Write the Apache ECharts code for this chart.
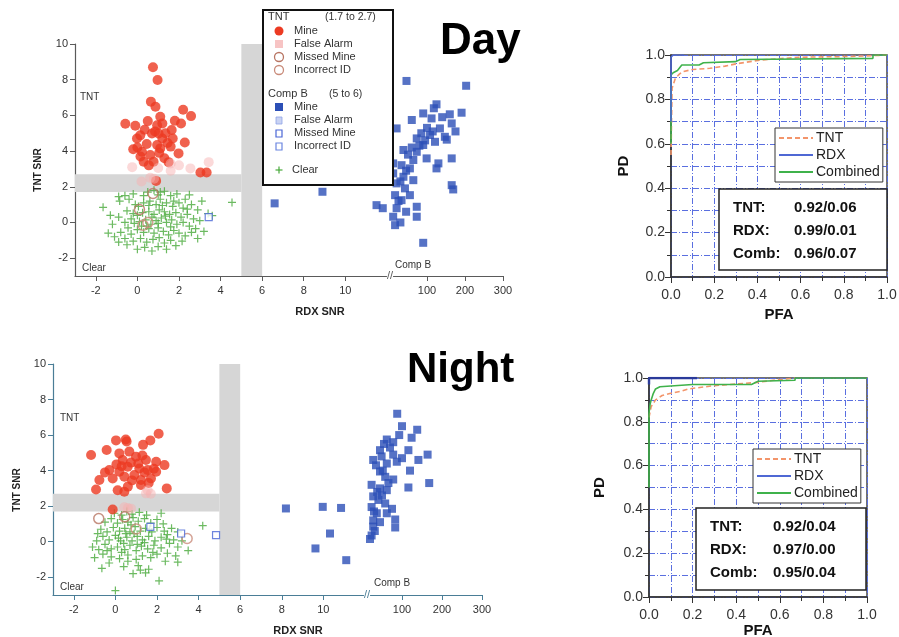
<!DOCTYPE html>
<html><head><meta charset="utf-8">
<script src="https://cdn.jsdelivr.net/npm/echarts@6/dist/echarts.min.js"></script>
<style>html,body{margin:0;padding:0;background:#fff}#c{width:899px;height:637px}</style>
</head><body><div id="c"></div>
<script>
const FONT = '"Liberation Sans", Arial, Helvetica, sans-serif';

// ---------- tick labels ----------
const xTicksLeft = [-2, 0, 2, 4, 6, 8, 10];
const xTicksRight = [100, 200, 300];
const yTicksSNR = [-2, 0, 2, 4, 6, 8, 10];

// ---------- threshold bands ----------
const tntBand = [1.7, 2.7];
const compBBand = [5, 6];

// ---------- DAY scatter ----------
const dayTntMine = [[0.75,8.7],[0.97,7.98],[0.65,6.77],[0.87,6.48],[2.2,6.32],[2.58,5.96],[-0.58,5.53],[-0.1,5.42],[0.5,5.68],[1.1,5.92],[1.2,5.55],[1.65,5.18],[2.1,5.55],[0.95,5.45],[2.28,4.48],[0.14,4.88],[-0.02,4.7],[0.7,4.98],[1.2,4.7],[1.45,4.45],[0.95,4.34],[1.6,4.25],[1.1,4.15],[0.22,3.96],[0.62,3.78],[0.3,3.4],[1.5,3.38],[1.98,3.87],[1.02,4.98],[0.78,3.4],[3.03,2.8],[3.33,2.8],[0.9,2.33],[0.0,4.2],[0.45,4.4],[1.3,3.6],[1.7,4.7],[0.35,5.2],[0.15,3.7],[1.35,5.0],[0.55,3.2],[1.8,5.7],[0.85,5.1],[-0.2,4.1],[1.05,3.9]];
const dayTntFalse = [[-0.25,3.1],[0.2,2.3],[0.62,2.5],[1.6,2.9],[2.55,3.03],[3.43,3.38],[2.0,3.2],[1.0,3.05],[0.8,2.45],[1.6,3.3]];
const dayTntMissed = [[0.75,1.62],[0.1,0.72]];
const dayTntWrongId = [[0.27,-0.15],[0.5,0.0]];
const dayCompBMissed = [[3.43,0.3]];
const dayCompBMineLow = [[6.6,1.07],[8.9,1.72],[11.5,0.97],[11.8,0.8]];
const dayCompBMineHigh = [[46,7.93],[203,7.66],[125,6.62],[90,6.11],[112,5.83],[60,5.74],[160,6.06],[191,6.15],[165,5.55],[134,5.27],[20,5.27],[73,4.71],[108,4.9],[147,4.8],[90,4.34],[121,4.52],[152,4.64],[38,4.06],[73,3.96],[99,3.59],[64,3.5],[165,3.59],[130,3.31],[11,3.31],[33,3.21],[55,3.03],[125,3.03],[11,2.75],[38,2.56],[64,2.37],[20,2.19],[165,2.09],[42,1.91],[169,1.85],[16,1.53],[55,1.53],[33,1.25],[73,0.88],[20,0.8],[73,0.32],[11,0.32],[16,-0.15],[90,-1.14],[85,5.0],[100,5.3],[115,5.1],[80,4.3],[60,4.2],[50,3.8],[45,2.9],[30,2.3],[25,1.2],[45,0.6],[30,0.0],[140,5.9],[175,5.1],[95,4.6],[118,6.4]];
const dayClear = [[-1.65,0.85],[4.55,1.12],[3.6,0.38],[-0.9,1.45],[-0.85,1.2],[-0.6,1.5],[-0.4,1.3],[-0.2,1.6],[0.3,1.5],[0.5,1.7],[0.8,1.8],[1.0,1.55],[1.3,1.75],[1.6,1.5],[1.9,1.6],[2.5,1.55],[2.3,1.3],[-0.5,0.65],[-0.2,0.5],[0.05,0.9],[0.3,1.1],[0.6,1.2],[0.9,1.0],[1.1,1.3],[1.4,1.1],[1.7,0.9],[2.0,1.1],[2.2,0.8],[2.6,1.0],[2.9,0.7],[3.1,1.2],[-0.9,0.3],[-0.6,0.0],[-0.3,0.2],[0.0,0.4],[0.25,0.55],[0.55,0.6],[0.8,0.45],[1.05,0.7],[1.3,0.6],[1.55,0.45],[1.85,0.55],[2.1,0.3],[2.4,0.45],[2.7,0.2],[3.0,0.1],[-1.2,-0.1],[-0.8,-0.55],[-0.45,-0.3],[-0.15,-0.05],[0.1,0.05],[0.4,0.15],[0.65,-0.1],[0.9,0.1],[1.15,0.25],[1.4,0.0],[1.65,0.15],[1.9,-0.1],[2.2,0.0],[2.5,-0.2],[2.8,-0.35],[3.2,-0.5],[-1.4,-0.6],[-1.1,-0.8],[-0.6,-0.9],[-0.3,-0.65],[0.0,-0.4],[0.3,-0.55],[0.55,-0.35],[0.8,-0.6],[1.0,-0.3],[1.25,-0.5],[1.5,-0.7],[1.75,-0.45],[2.0,-0.6],[2.3,-0.75],[2.6,-0.55],[-0.9,-1.1],[-0.5,-1.25],[-0.2,-1.05],[0.15,-0.9],[0.45,-1.1],[0.75,-0.95],[1.05,-0.85],[1.3,-1.15],[1.6,-1.0],[1.85,-1.3],[2.15,-1.05],[0.0,-1.5],[0.35,-1.4],[0.7,-1.6],[1.0,-1.35],[1.4,-1.5],[0.55,0.95],[1.2,0.95],[0.7,0.3],[1.0,-0.05],[1.35,0.35],[0.45,-0.2],[1.75,1.2],[-0.1,1.0],[0.2,-0.2],[1.6,-0.25],[2.4,0.75],[-1.3,0.4],[3.4,0.5],[2.9,-0.9],[1.1,1.7]];

// ---------- NIGHT scatter ----------
const nightTntMine = [[2.08,6.07],[1.68,5.7],[1.33,5.45],[0.03,5.7],[0.54,5.64],[-1.17,4.88],[-0.42,5.16],[0.19,4.97],[0.67,5.07],[0.35,4.6],[0.99,4.78],[1.47,4.6],[1.96,4.5],[2.36,4.31],[-0.29,4.03],[0.19,3.94],[0.59,4.22],[1.15,4.12],[1.55,4.03],[1.96,3.94],[-0.13,3.56],[0.43,3.66],[0.91,3.75],[1.23,3.47],[1.71,3.56],[-0.77,3.47],[-0.93,2.94],[0.11,2.9],[0.43,2.81],[2.47,3.0],[1.23,3.19],[-0.13,1.81],[0.5,5.75],[0.75,4.45],[1.4,3.9],[0.3,4.25],[1.85,4.1],[1.1,4.4],[0.8,3.45],[1.6,3.3],[-0.5,3.9],[1.3,4.85],[0.05,4.35],[0.6,3.1]];
const nightTntFalse = [[0.43,1.94],[0.6,1.9],[0.75,1.86],[1.47,2.72],[1.7,2.7],[1.55,2.9]];
const nightTntMissed = [[-0.8,1.3],[0.45,1.4]];
const nightTntWrongId = [[1.0,0.72],[3.45,0.18]];
const nightCompBMissed = [[1.68,0.83],[3.16,0.46],[4.84,0.37]];
const nightCompBMineLow = [[8.2,1.87],[9.97,1.96],[10.85,1.9],[10.32,0.46],[9.62,-0.38],[11.1,-1.04]];
const nightCompBMineHigh = [[88,7.2],[100,6.5],[138,6.3],[93,6.0],[124,5.85],[62,5.75],[78,5.6],[45,5.15],[116,5.15],[78,4.9],[28,4.6],[49,4.8],[87,4.5],[141,4.6],[164,4.9],[62,4.4],[120,4.0],[45,3.95],[58,3.65],[78,3.5],[24,3.2],[116,3.05],[168,3.3],[45,3.0],[62,2.9],[28,2.55],[41,2.35],[58,2.15],[24,1.95],[75,1.85],[37,1.6],[62,1.6],[28,1.2],[83,1.25],[45,1.1],[83,0.8],[28,0.85],[24,0.35],[20,0.15],[35,4.3],[52,4.0],[70,5.3],[38,2.8],[30,1.7],[50,2.6],[66,3.3],[32,0.6],[100,4.7],[55,5.5]];
const nightClear = [[0.0,-2.75],[2.1,-2.2],[0.85,-1.8],[-0.65,-1.5],[1.45,-1.75],[3.0,-1.15],[1.6,-1.55],[0.4,-1.4],[1.1,-1.35],[-0.3,-1.2],[2.4,-1.1],[-1.0,-0.9],[-0.6,-0.7],[-0.2,-0.85],[0.2,-0.95],[0.6,-0.75],[1.0,-1.0],[1.3,-0.8],[1.7,-0.9],[2.0,-0.7],[2.5,-0.65],[-1.1,-0.3],[-0.8,-0.45],[-0.5,-0.15],[-0.2,-0.4],[0.1,-0.3],[0.45,-0.45],[0.7,-0.2],[1.0,-0.5],[1.25,-0.25],[1.55,-0.4],[1.85,-0.2],[2.2,-0.35],[2.6,-0.1],[3.0,-0.3],[3.5,-0.5],[-0.9,0.05],[-0.6,0.3],[-0.3,0.1],[0.0,0.35],[0.25,0.05],[0.55,0.25],[0.8,0.05],[1.05,0.3],[1.3,0.1],[1.6,0.3],[1.9,0.05],[2.2,0.25],[2.5,0.4],[2.8,0.1],[3.2,0.05],[-0.7,0.7],[-0.4,0.55],[-0.1,0.8],[0.2,0.6],[0.45,0.75],[0.7,0.55],[0.95,0.85],[1.2,0.6],[1.45,0.75],[1.75,0.55],[2.0,0.8],[2.35,0.6],[2.7,0.75],[3.0,0.55],[4.2,0.9],[-0.5,1.1],[-0.2,1.3],[0.1,1.05],[0.35,1.25],[0.6,1.1],[0.85,1.35],[1.1,1.15],[1.4,1.3],[1.7,1.05],[2.0,1.25],[2.3,1.0],[-0.05,1.6],[0.3,1.5],[0.55,1.7],[0.8,1.55],[1.15,1.65],[1.5,1.5],[2.2,1.6],[0.4,-0.1],[0.9,0.45],[1.4,-0.05],[0.15,0.2],[1.8,-0.6],[0.6,-1.1],[-0.4,-0.5],[2.9,-0.8],[1.2,-1.6],[0.75,0.95],[1.65,0.7],[-0.85,0.45],[2.45,0.15],[0.3,-0.6],[1.05,-0.15],[0.5,0.45]];

// ---------- ROC curves [PFA, PD] ----------
const dayRocTnt = [[0,0.55],[0.005,0.85],[0.02,0.895],[0.04,0.915],[0.055,0.925],[0.1,0.935],[0.18,0.94],[0.25,0.95],[0.3,0.96],[0.41,0.977],[0.6,0.99],[0.8,0.993],[0.93,0.997],[1,1]];
const dayRocRdx = [[0,0.7],[0,0.99],[0.01,1],[0.06,1]];
const dayRocComb = [[0,0.6],[0,0.91],[0.01,0.92],[0.03,0.93],[0.05,0.955],[0.13,0.955],[0.15,0.965],[0.3,0.97],[0.32,0.98],[0.935,0.985],[0.935,1],[1,1]];
const nightRocTnt = [[0,0.82],[0.01,0.87],[0.03,0.9],[0.06,0.92],[0.1,0.93],[0.15,0.94],[0.18,0.95],[0.3,0.965],[0.5,0.98],[0.57,0.99],[0.67,1]];
const nightRocRdx = [[0,0.97],[0,1],[0.22,1]];
const nightRocComb = [[0,0.5],[0,0.84],[0.005,0.88],[0.01,0.9],[0.02,0.93],[0.03,0.95],[0.05,0.96],[0.2,0.97],[0.47,0.97],[0.5,0.985],[0.67,0.99],[0.67,1],[1,1]];

// ---------- summary text ----------
const dayStats = [['TNT:', '0.92/0.06'], ['RDX:', '0.99/0.01'], ['Comb:', '0.96/0.07']];
const nightStats = [['TNT:', '0.92/0.04'], ['RDX:', '0.97/0.00'], ['Comb:', '0.95/0.04']];

const C = {
  red: '#ec3a22', pink: 'rgba(246,175,175,0.6)', brown: '#b87563',
  blue: '#2c4fb6', blueHollow: '#4a66d6', green: '#47a93a',
  roTnt: '#f3956b', roRdx: '#4f68d4', roComb: '#3fb24b', grid: '#5a6fe0'
};
const PLUS = 'path://M3.4,0H4.6V8H3.4Z M0,3.4H8V4.6H0Z';

function snrX(gi, min, max, ticks, color) {
  return {
    type: 'value', gridIndex: gi, min: min, max: max,
    axisLine: { show: true, onZero: false, lineStyle: { color: color, width: 1.2 } },
    axisTick: { show: true, length: 5, customValues: ticks, lineStyle: { color: color } },
    axisLabel: { customValues: ticks, color: '#333', fontSize: 11, fontFamily: FONT, margin: 9 },
    splitLine: { show: false }
  };
}
function snrY(gi, color, show) {
  return {
    type: 'value', gridIndex: gi, min: -3, max: 10, show: show,
    axisLine: { show: true, onZero: false, lineStyle: { color: color, width: 1.2 } },
    axisTick: { show: true, length: 5, customValues: yTicksSNR, lineStyle: { color: color } },
    axisLabel: { customValues: yTicksSNR, color: '#333', fontSize: 11, fontFamily: FONT, margin: 7 },
    splitLine: { show: false }
  };
}
function rocAxis(gi, name, gap, isY) {
  return {
    type: 'value', gridIndex: gi, min: 0, max: 1, interval: 0.2,
    name: name, nameLocation: 'middle', nameGap: gap, nameRotate: isY ? 90 : 0,
    nameTextStyle: { fontWeight: 'bold', fontSize: 15, color: '#111', fontFamily: FONT },
    axisLine: { show: true, lineStyle: { color: '#333', width: 1.5 } },
    axisTick: { show: true, length: 6, lineStyle: { color: '#333' } },
    minorTick: { show: true, splitNumber: 2, length: 4, lineStyle: { color: '#333' } },
    axisLabel: { color: '#333', fontSize: 14, fontFamily: FONT, margin: isY ? 6 : 11, formatter: v => v.toFixed(1) },
    splitLine: { show: true, lineStyle: { color: C.grid, width: 1, type: [6, 2, 1, 2] } },
    minorSplitLine: { show: true, lineStyle: { color: C.grid, width: 1, type: [6, 2, 1, 2] } }
  };
}
function sc(name, data, xi, yi, symbol, size, itemStyle, z) {
  return { type: 'scatter', name: name, data: data, xAxisIndex: xi, yAxisIndex: yi,
    symbol: symbol, symbolSize: size, itemStyle: itemStyle, z: z || 3, silent: true };
}
function bands(xi, yi) {
  return { type: 'scatter', name: 'bands' + xi, data: [], xAxisIndex: xi, yAxisIndex: yi, silent: true,
    markArea: { silent: true, itemStyle: { color: '#d6d6d6' }, z: 1,
      data: [
        [{ coord: [-3, tntBand[0]] }, { coord: [compBBand[0], tntBand[1]] }],
        [{ coord: [compBBand[0], -3] }, { coord: [compBBand[1], 10] }]
      ] } };
}
function roc(name, data, xi, color, dashed, w) {
  return { type: 'line', name: name, data: data, xAxisIndex: xi, yAxisIndex: xi, symbol: 'none',
    lineStyle: { color: color, width: w || 1.6, type: dashed ? [5, 3] : 'solid' }, itemStyle: { color: color },
    z: 4, silent: true };
}
function panelSeries(prefix, xiL, xiR, d) {
  return [
    bands(xiL, xiL),
    sc(prefix + 'Clear', d.clear, xiL, xiL, PLUS, 8, { color: C.green }, 3),
    sc(prefix + 'TNT Mine', d.tntMine, xiL, xiL, 'circle', 10, { color: C.red }, 4),
    sc(prefix + 'TNT False Alarm', d.tntFalse, xiL, xiL, 'circle', 10, { color: C.pink }, 4),
    sc(prefix + 'TNT Missed', d.tntMissed, xiL, xiL, 'circle', 10, { color: 'rgba(255,255,255,0)', borderColor: C.brown, borderWidth: 1.5 }, 5),
    sc(prefix + 'TNT Wrong', d.tntWrong, xiL, xiL, 'circle', 10, { color: 'rgba(255,255,255,0)', borderColor: '#c98b7a', borderWidth: 1.5 }, 5),
    sc(prefix + 'CompB Missed', d.cbMissed, xiL, xiL, 'rect', 7, { color: '#fff', borderColor: C.blueHollow, borderWidth: 1.2 }, 5),
    sc(prefix + 'CompB Mine L', d.cbLow, xiL, xiL, 'rect', 8, { color: C.blue }, 4),
    sc(prefix + 'CompB Mine R', d.cbHigh, xiR, xiR, 'rect', 8, { color: C.blue }, 4)
  ];
}

function statsBox(x, y, w, h, rows, lx, vx, ys) {
  const ch = [{ type: 'rect', z: 100, shape: { x: x, y: y, width: w, height: h }, style: { fill: '#fff', stroke: '#222', lineWidth: 1.5 } }];
  rows.forEach((r, i) => {
    ch.push({ type: 'text', z: 101, x: lx, y: ys[i], style: { text: r[0], font: 'bold 15px ' + FONT, fill: '#111', textVerticalAlign: 'middle' } });
    ch.push({ type: 'text', z: 101, x: vx, y: ys[i], style: { text: r[1], font: 'bold 15px ' + FONT, fill: '#111', textVerticalAlign: 'middle' } });
  });
  return ch;
}

function txt(x, y, s, font, extra, z) {
  return { type: 'text', x: x, y: y, z: z || 50, style: Object.assign({ text: s, font: font, fill: '#222', textVerticalAlign: 'middle' }, extra || {}) };
}

// legend for day scatter
function scatterLegend() {
  const L = 263, T = 10, f = '11px ' + FONT, Z = 70;
  const ch = [{ type: 'rect', z: 60, shape: { x: L, y: T, width: 130, height: 175 }, style: { fill: '#fff', stroke: '#111', lineWidth: 2 } }];
  ch.push(txt(268, 17, 'TNT', f, { fill: '#333' }, Z));
  ch.push(txt(325, 17, '(1.7 to 2.7)', '10.5px ' + FONT, { fill: '#333' }, Z));
  const sx = 279, tx = 294;
  ch.push({ type: 'circle', z: Z, shape: { cx: sx, cy: 31, r: 4.5 }, style: { fill: C.red } });
  ch.push({ type: 'rect', z: Z, shape: { x: sx - 4, y: 40, width: 8, height: 8 }, style: { fill: '#f7c4c4' } });
  ch.push({ type: 'circle', z: Z, shape: { cx: sx, cy: 57, r: 4.5 }, style: { fill: 'none', stroke: C.brown, lineWidth: 1.3 } });
  ch.push({ type: 'circle', z: Z, shape: { cx: sx, cy: 70, r: 4.5 }, style: { fill: 'none', stroke: '#c98b7a', lineWidth: 1.3 } });
  ['Mine', 'False Alarm', 'Missed Mine', 'Incorrect ID'].forEach((s, i) => ch.push(txt(tx, 31 + i * 13, s, f, { fill: '#333' }, Z)));
  ch.push(txt(268, 94, 'Comp B', f, { fill: '#333' }, Z));
  ch.push(txt(329, 94, '(5 to 6)', '10.5px ' + FONT, { fill: '#333' }, Z));
  ch.push({ type: 'rect', z: Z, shape: { x: sx - 4, y: 103, width: 8, height: 8 }, style: { fill: C.blue } });
  ch.push({ type: 'rect', z: Z, shape: { x: sx - 3, y: 117, width: 6, height: 7 }, style: { fill: '#c9d3f3', stroke: '#8fa3e6', lineWidth: 0.8 } });
  ch.push({ type: 'rect', z: Z, shape: { x: sx - 3, y: 130, width: 6, height: 7 }, style: { fill: '#fff', stroke: C.blueHollow, lineWidth: 1.2 } });
  ch.push({ type: 'rect', z: Z, shape: { x: sx - 3, y: 143, width: 6, height: 7 }, style: { fill: '#fff', stroke: '#6b85e0', lineWidth: 1.2 } });
  ['Mine', 'False Alarm', 'Missed Mine', 'Incorrect ID'].forEach((s, i) => ch.push(txt(tx, 107 + i * 13, s, f, { fill: '#333' }, Z)));
  ch.push({ type: 'rect', z: Z, shape: { x: sx - 3.5, y: 169.4, width: 7, height: 1.2 }, style: { fill: C.green } });
  ch.push({ type: 'rect', z: Z, shape: { x: sx - 0.6, y: 166.5, width: 1.2, height: 7 }, style: { fill: C.green } });
  ch.push(txt(292, 170, 'Clear', f, { fill: '#333' }, Z));
  return ch;
}

const dayC = '#5a5a5a', nightC = '#4a7d96';

function rocLegend(left, top) {
  return { data: ['TNT', 'RDX', 'Combined'], orient: 'vertical', left: left, top: top, itemWidth: 34, itemHeight: 10, itemGap: 3,
    padding: [3, 3, 3, 3], borderColor: '#333', borderWidth: 1, backgroundColor: '#fff', z: 90,
    itemStyle: { opacity: 0 },
    textStyle: { fontSize: 14, color: '#222', fontFamily: FONT, padding: [0, 0, 0, -2] }, selectedMode: false };
}

function g(left, top, width, height, framed) {
  const o = { left: left, top: top, width: width, height: height, outerBoundsMode: 'none', containLabel: false };
  if (framed) Object.assign(o, { show: true, borderColor: '#444', borderWidth: 1.5, backgroundColor: 'transparent' });
  return o;
}

const option = {
  backgroundColor: '#fff',
  animation: false,
  textStyle: { fontFamily: FONT },
  grid: [
    g(75, 44, 314, 232),
    g(389, 44, 114, 232),
    g(671, 55, 216, 222, true),
    g(53, 364, 313, 231),
    g(366, 364, 116, 231),
    g(649, 378, 218, 219, true)
  ],
  xAxis: [
    snrX(0, -3, 12.1, xTicksLeft, dayC),
    snrX(1, 0, 300, xTicksRight, dayC),
    rocAxis(2, 'PFA', 30, false),
    snrX(3, -3, 12.05, xTicksLeft, nightC),
    snrX(4, 10, 300, xTicksRight, nightC),
    rocAxis(5, 'PFA', 24, false)
  ],
  yAxis: [
    snrY(0, dayC, true),
    snrY(1, dayC, false),
    rocAxis(2, 'PD', 40, true),
    snrY(3, nightC, true),
    snrY(4, nightC, false),
    rocAxis(5, 'PD', 42, true)
  ],
  legend: [rocLegend(775, 128), rocLegend(753, 449)],
  series: [].concat(
    panelSeries('D ', 0, 1, { clear: dayClear, tntMine: dayTntMine, tntFalse: dayTntFalse, tntMissed: dayTntMissed, tntWrong: dayTntWrongId, cbMissed: dayCompBMissed, cbLow: dayCompBMineLow, cbHigh: dayCompBMineHigh }),
    panelSeries('N ', 3, 4, { clear: nightClear, tntMine: nightTntMine, tntFalse: nightTntFalse, tntMissed: nightTntMissed, tntWrong: nightTntWrongId, cbMissed: nightCompBMissed, cbLow: nightCompBMineLow, cbHigh: nightCompBMineHigh }),
    [
      roc('TNT', dayRocTnt, 2, C.roTnt, true),
      roc('Combined', dayRocComb, 2, C.roComb, false),
      roc('RDX', dayRocRdx, 2, C.roRdx, false),
      roc('TNT', nightRocTnt, 5, C.roTnt, true),
      roc('Combined', nightRocComb, 5, C.roComb, false),
      roc('RDX', nightRocRdx, 5, '#2a3a9a', false, 2.4)
    ]
  ),
  graphic: [].concat(
    [
      txt(440, 42, 'Day', 'bold 44px ' + FONT, { fill: '#000' }),
      txt(407, 370, 'Night', 'bold 42px ' + FONT, { fill: '#000' }),
      { type: 'text', x: 38, y: 170, rotation: Math.PI / 2, z: 50, style: { text: 'TNT SNR', font: 'bold 10px ' + FONT, fill: '#222', textAlign: 'center', textVerticalAlign: 'middle' } },
      { type: 'text', x: 17, y: 490, rotation: Math.PI / 2, z: 50, style: { text: 'TNT SNR', font: 'bold 10px ' + FONT, fill: '#222', textAlign: 'center', textVerticalAlign: 'middle' } },
      txt(320, 312, 'RDX SNR', 'bold 11px ' + FONT, { textAlign: 'center' }),
      txt(298, 631, 'RDX SNR', 'bold 11px ' + FONT, { textAlign: 'center' }),
      txt(80, 97, 'TNT', '10px ' + FONT, { fill: '#333' }),
      txt(82, 268, 'Clear', '10px ' + FONT, { fill: '#333' }),
      txt(413, 265, 'Comp B', '10px ' + FONT, { fill: '#333', textAlign: 'center' }),
      txt(60, 418, 'TNT', '10px ' + FONT, { fill: '#333' }),
      txt(60, 587, 'Clear', '10px ' + FONT, { fill: '#333' }),
      txt(392, 583, 'Comp B', '10px ' + FONT, { fill: '#333', textAlign: 'center' }),
      txt(390, 276, '//', '11px ' + FONT, { fill: dayC, textAlign: 'center', backgroundColor: '#fff' }),
      txt(367, 595, '//', '11px ' + FONT, { fill: nightC, textAlign: 'center', backgroundColor: '#fff' })
    ],
    scatterLegend(),
    statsBox(719, 189, 168, 81, dayStats, 733, 794, [208, 231, 254]),
    statsBox(696, 508, 170, 82, nightStats, 710, 773, [527, 550, 573])
  )
};

const chart = echarts.init(document.getElementById('c'), null, { renderer: 'canvas' });
chart.setOption(option);
</script>
</body></html>
